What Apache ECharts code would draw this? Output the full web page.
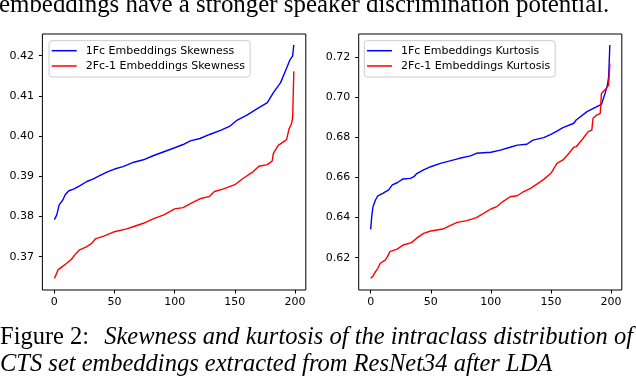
<!DOCTYPE html>
<html>
<head>
<meta charset="utf-8">
<script src="https://cdn.jsdelivr.net/npm/echarts@6/dist/echarts.min.js"></script>
<style>
html, body { margin: 0; padding: 0; background: #fff; }
#chart { width: 636px; height: 382px; }
</style>
</head>
<body>
<div id="chart"></div>
<script>
// tick labels
const xTicks = [0, 50, 100, 150, 200];
const skewTicks = [0.37, 0.38, 0.39, 0.40, 0.41, 0.42];
const kurtTicks = [0.62, 0.64, 0.66, 0.68, 0.70, 0.72];

// skewness, 1Fc embeddings (sorted, index -> value)
const skew1fcX = [0, 2, 4, 7, 9, 12, 16, 21, 27, 32, 38, 44, 50, 57, 66, 74, 82, 91, 100, 107, 113, 121, 129, 138, 146, 152, 160, 168, 177, 182, 188, 192, 196, 198, 199];
const skew1fcY = [0.3792, 0.3804, 0.3829, 0.3841, 0.3854, 0.3864, 0.3868, 0.3876, 0.3887, 0.3893, 0.3902, 0.3911, 0.3918, 0.3924, 0.3935, 0.3941, 0.3951, 0.3961, 0.3971, 0.3979, 0.3988, 0.3994, 0.4004, 0.4014, 0.4025, 0.4040, 0.4052, 0.4067, 0.4083, 0.4108, 0.4133, 0.4162, 0.4191, 0.4199, 0.4227];

// skewness, 2Fc-1 embeddings
const skew2fcX = [0, 1, 3, 6, 10, 14, 18, 21, 27, 31, 34, 41, 50, 60, 66, 74, 82, 91, 100, 107, 115, 121, 129, 133, 140, 150, 157, 165, 170, 177, 181, 182, 186, 190, 193, 195, 197, 198, 199];
const skew2fcY = [0.3646, 0.3652, 0.3667, 0.3674, 0.3683, 0.3693, 0.3708, 0.3717, 0.3725, 0.3733, 0.3744, 0.3751, 0.3762, 0.3769, 0.3775, 0.3783, 0.3794, 0.3804, 0.3819, 0.3822, 0.3835, 0.3844, 0.3850, 0.3862, 0.3868, 0.3879, 0.3895, 0.3911, 0.3925, 0.3929, 0.3938, 0.3957, 0.3977, 0.3985, 0.3991, 0.4018, 0.4030, 0.4045, 0.4161];

// kurtosis, 1Fc embeddings
const kurt1fcX = [0, 1, 2, 4, 6, 10, 15, 18, 22, 27, 33, 36, 38, 44, 50, 58, 66, 74, 83, 88, 100, 108, 116, 122, 130, 135, 144, 150, 155, 160, 169, 171, 180, 187, 192, 195, 197, 198, 199];
const kurt1fcY = [0.6341, 0.6413, 0.6455, 0.6488, 0.6509, 0.6521, 0.6538, 0.6563, 0.6574, 0.6593, 0.6596, 0.6604, 0.6618, 0.6638, 0.6654, 0.6671, 0.6683, 0.6696, 0.6708, 0.6721, 0.6726, 0.6737, 0.6751, 0.6762, 0.6766, 0.6787, 0.6799, 0.6816, 0.6832, 0.6849, 0.6871, 0.6887, 0.6929, 0.6950, 0.6965, 0.7020, 0.7062, 0.7103, 0.7262];

// kurtosis, 2Fc-1 embeddings
const kurt2fcX = [0, 2, 4, 6, 8, 12, 14, 16, 22, 27, 34, 38, 44, 50, 60, 66, 72, 80, 88, 94, 100, 105, 110, 116, 122, 127, 133, 138, 144, 150, 155, 160, 165, 169, 171, 176, 181, 184, 185, 188, 191, 192, 196, 198, 199];
const kurt2fcY = [0.6097, 0.6109, 0.6130, 0.6147, 0.6172, 0.6188, 0.6205, 0.6230, 0.6243, 0.6263, 0.6275, 0.6296, 0.6321, 0.6333, 0.6343, 0.6360, 0.6376, 0.6385, 0.6400, 0.6421, 0.6443, 0.6455, 0.6480, 0.6504, 0.6509, 0.6529, 0.6546, 0.6566, 0.6591, 0.6621, 0.6671, 0.6688, 0.6721, 0.6751, 0.6754, 0.6790, 0.6829, 0.6837, 0.6896, 0.6912, 0.6920, 0.7020, 0.7045, 0.7062, 0.7170];

const names = ['1Fc Embeddings Skewness', '2Fc-1 Embeddings Skewness', '1Fc Embeddings Kurtosis', '2Fc-1 Embeddings Kurtosis'];

const zip = (xs, ys) => xs.map((x, i) => [x, ys[i]]);
const labelFont = { fontFamily: 'DejaVu Sans', fontSize: 11, color: '#000' };
const serif = 'Liberation Serif';

const chart = echarts.init(document.getElementById('chart'), null, { renderer: 'canvas' });

function xAxis(gridIndex) {
    return {
        type: 'value', gridIndex, min: -9.95, max: 208.95,
        axisLine: { show: false, onZero: false }, splitLine: { show: false },
        axisTick: { customValues: xTicks, length: 3.5, lineStyle: { color: '#000', width: 1 } },
        axisLabel: Object.assign({ customValues: xTicks, margin: 7 }, labelFont),
    };
}
function yAxis(gridIndex, min, max, ticks) {
    return {
        type: 'value', gridIndex, min, max,
        axisLine: { show: false, onZero: false }, splitLine: { show: false },
        axisTick: { customValues: ticks, length: 3.5, lineStyle: { color: '#000', width: 1 } },
        axisLabel: Object.assign({ customValues: ticks, margin: 8.5, formatter: (v) => v.toFixed(2) }, labelFont),
    };
}
function legend(left, data) {
    return {
        left, top: 40.7, orient: 'vertical', data, selectedMode: false,
        icon: 'rect', itemWidth: 25, itemHeight: 1.5, itemGap: 2.3,
        padding: [3.5, 5, 4.5, 2.7],
        backgroundColor: '#fff', borderColor: '#cccccc', borderWidth: 1, borderRadius: 3,
        textStyle: Object.assign({ lineHeight: 13, padding: [0, 0, 0, 4] }, labelFont),
    };
}
function line(name, xi, data, color) {
    return {
        name, type: 'line', xAxisIndex: xi, yAxisIndex: xi, data,
        symbol: 'none', silent: true,
        lineStyle: { color, width: 1.4 }, itemStyle: { color },
    };
}

const option = {
    animation: false,
    grid: [
        { left: 42.4, top: 34, width: 263.4, height: 256, show: true, borderColor: '#000', borderWidth: 1 },
        { left: 358.7, top: 34, width: 263.1, height: 256, show: true, borderColor: '#000', borderWidth: 1 },
    ],
    xAxis: [xAxis(0), xAxis(1)],
    yAxis: [yAxis(0, 0.3617, 0.4254, skewTicks), yAxis(1, 0.60386, 0.73165, kurtTicks)],
    legend: [legend(49, [names[0], names[1]]), legend(364.3, [names[2], names[3]])],
    series: [
        line(names[0], 0, zip(skew1fcX, skew1fcY), '#0000ff'),
        line(names[1], 0, zip(skew2fcX, skew2fcY), '#ff0000'),
        line(names[2], 1, zip(kurt1fcX, kurt1fcY), '#0000ff'),
        line(names[3], 1, zip(kurt2fcX, kurt2fcY), '#ff0000'),
    ],
    graphic: [
        {
            type: 'text', silent: true,
            style: { x: -1, y: -7, text: 'embeddings have a stronger speaker discrimination potential.', font: '24.9px "' + serif + '"', fill: '#000', verticalAlign: 'top' },
        },
        {
            type: 'text', silent: true,
            style: { x: 0, y: 325.4, text: 'Figure 2:', font: '24.5px "' + serif + '"', fill: '#000', verticalAlign: 'top' },
        },
        {
            type: 'text', silent: true,
            style: { x: 633, y: 325.4, align: 'right', text: 'Skewness and kurtosis of the intraclass distribution of', font: 'italic 24.5px "' + serif + '"', fill: '#000', verticalAlign: 'top' },
        },
        {
            type: 'text', silent: true,
            style: { x: 0, y: 352.4, text: 'CTS set embeddings extracted from ResNet34 after LDA', font: 'italic 24.5px "' + serif + '"', fill: '#000', verticalAlign: 'top' },
        },
    ],
};
chart.setOption(option);
</script>
</body>
</html>
